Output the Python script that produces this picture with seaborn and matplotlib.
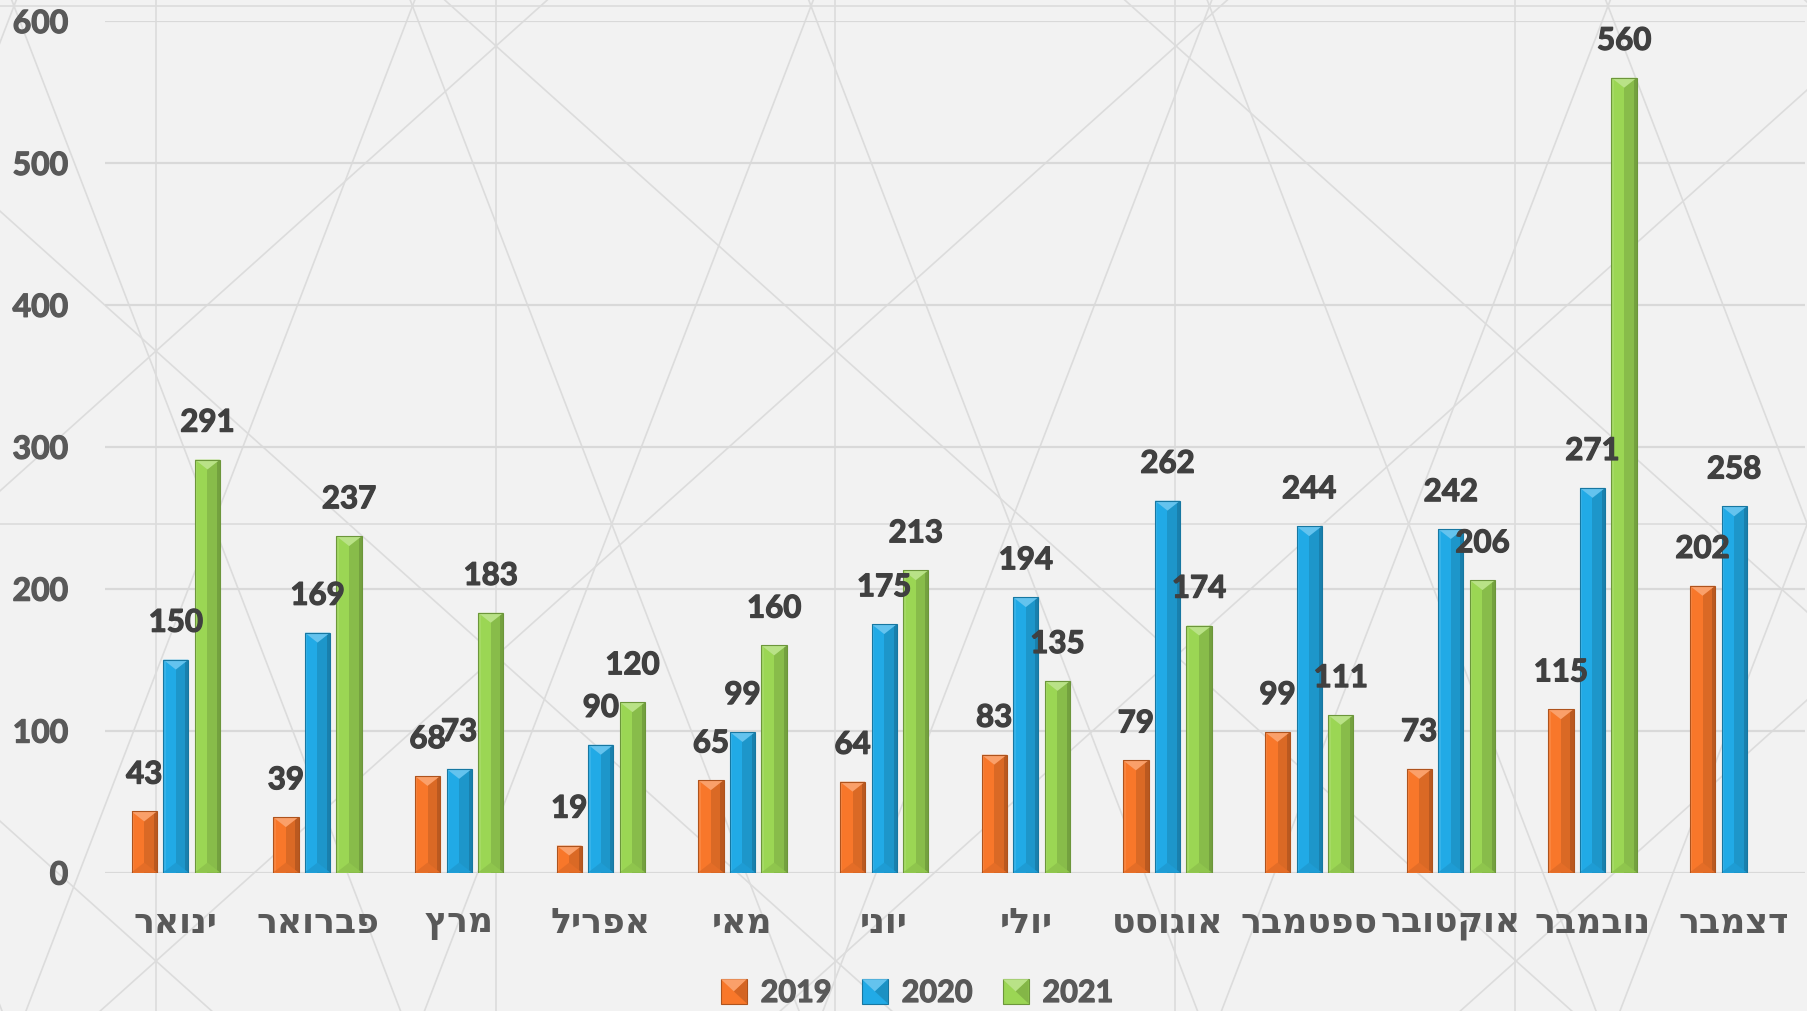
import matplotlib
matplotlib.use("Agg")
import matplotlib.patheffects as pe
import matplotlib.pyplot as plt
import numpy as np
import pandas as pd
import seaborn as sns
from matplotlib.colors import to_rgb
from matplotlib.legend_handler import HandlerBase
from matplotlib.patches import Polygon, Rectangle

# Data
months = ["ינואר", "פברואר", "מרץ", "אפריל", "מאי", "יוני",
          "יולי", "אוגוסט", "ספטמבר", "אוקטובר", "נובמבר", "דצמבר"]
years = ["2019", "2020", "2021"]
v2019 = [43, 39, 68, 19, 65, 64, 83, 79, 99, 73, 115, 202]
v2020 = [150, 169, 73, 90, 99, 175, 194, 262, 244, 242, 271, 258]
v2021 = [291, 237, 183, 120, 160, 213, 135, 174, 111, 206, 560, np.nan]
y_ticks = [0, 100, 200, 300, 400, 500, 600]

colors = ["#F8772A", "#21AAE6", "#9BD654"]
BG = "#F2F2F2"
LINE = "#DCDCDC"
W, H = 1808, 1011

rows = []
for year, vals in zip(years, [v2019, v2020, v2021]):
    for m, v in zip(months, vals):
        rows.append({"month": m, "year": year, "value": v})
df = pd.DataFrame(rows).dropna()

sns.set_theme(style="white")
plt.rcParams["font.family"] = ["Lato", "DejaVu Sans"]


def mix(c, other, t):
    c, o = np.array(to_rgb(c)), np.array(to_rgb(other))
    return tuple(c * (1 - t) + o * t)


def heavy(color):
    # slightly thicker strokes, the reference text is a very heavy face
    return [pe.withStroke(linewidth=0.9, foreground=color)]


fig = plt.figure(figsize=(W / 100, H / 100), dpi=100, facecolor=BG)

# decorative background pattern, in pixel coordinates
bg = fig.add_axes([0, 0, 1, 1], zorder=0)
bg.set_xlim(0, W)
bg.set_ylim(H, 0)
bg.axis("off")
xs = np.array([-50, W + 50])
for k in range(-1, 6):
    bg.axvline(156 + 339.7 * k, color=LINE, lw=1.2)
for yy in (6, 524):
    bg.axhline(yy, color=LINE, lw=1.2)
s = 0.897
for n in range(-4, 5):
    bg.plot(xs, 46 + s * (xs - 496) + 610 * n, color=LINE, lw=1.2)
    bg.plot(xs, 46 - s * (xs - 496) + 610 * n, color=LINE, lw=1.2)
S = 2.6
for k in range(-3, 8):
    x0 = 14 + 398.5 * k
    bg.plot(xs, 6 + S * (xs - x0), color=LINE, lw=1.2)
    bg.plot(xs, 6 - S * (xs - x0), color=LINE, lw=1.2)

ax = fig.add_axes([105 / W, 1 - 872.5 / H, (1805 - 105) / W, (872.5 - 21) / H], zorder=1)
ax.patch.set_alpha(0)

sns.barplot(data=df, x="month", y="value", hue="year", order=months,
            hue_order=years, palette=colors, saturation=1, width=0.67,
            gap=0.2, legend=False, ax=ax, edgecolor="none", zorder=3)
bars = [p for p in ax.patches if np.isfinite(p.get_height()) and p.get_height() > 0]

ax.set_xlim(-0.5, 11.5)
ax.set_ylim(0, 600)
ax.set_yticks(y_ticks)
ax.set_xticks(range(len(months)), labels=[m[::-1] for m in months])
for lab in ax.get_xticklabels():
    lab.set_fontfamily("DejaVu Sans")
    lab.set_fontweight("bold")
for lab in ax.get_yticklabels():
    lab.set_fontweight("bold")
    lab.set_path_effects(heavy("#595959"))
ax.tick_params(axis="x", length=0, pad=24, labelsize=25, labelcolor="#595959")
ax.tick_params(axis="y", length=0, pad=26.5, labelsize=23, labelcolor="#595959")
ax.grid(axis="y", color="#D9D9D9", lw=1.6, zorder=0)
ax.grid(axis="x", visible=False)
ax.set_axisbelow(True)
ax.set_xlabel("")
ax.set_ylabel("")
sns.despine(ax=ax, left=True, bottom=True)

# bevel effect and value labels
d = 7
for p in bars:
    x, w, h = p.get_x(), p.get_width(), p.get_height()
    c = p.get_facecolor()
    ax.add_patch(Rectangle((x + 0.5 * w, 0), 0.5 * w, h, facecolor=mix(c, "black", 0.12),
                           edgecolor="none", zorder=4))
    ax.add_patch(Rectangle((x + 0.88 * w, 0), 0.12 * w, h, facecolor=mix(c, "black", 0.25),
                           edgecolor="none", zorder=4))
    ax.add_patch(Rectangle((x, 0), 0.1 * w, h, facecolor=mix(c, "white", 0.1),
                           edgecolor="none", zorder=4))
    ax.add_patch(Polygon([(x, h), (x + w, h), (x + w / 2, h - min(d, h / 2))],
                         facecolor=mix(c, "white", 0.3), edgecolor="none", zorder=5))
    ax.add_patch(Polygon([(x, 0), (x + w, 0), (x + w / 2, min(d, h / 2))],
                         facecolor=mix(c, "black", 0.08), edgecolor="none", zorder=5))
    ax.add_patch(Rectangle((x, 0), w, h, facecolor="none", edgecolor=mix(c, "black", 0.3),
                           lw=0.8, zorder=6))
    ax.annotate(f"{h:.0f}", (x + w / 2, h), xytext=(0, 16.5), textcoords="offset points",
                ha="center", va="bottom", fontsize=22.5, fontweight="bold",
                color="#404040", zorder=7, annotation_clip=False,
                path_effects=heavy("#404040"))


class BevelHandler(HandlerBase):
    def create_artists(self, legend, orig_handle, xdescent, ydescent, width, height,
                       fontsize, trans):
        c = orig_handle.get_facecolor()
        x0, y0 = -xdescent, -ydescent
        cx, cy = x0 + width / 2, y0 + height / 2
        base = Rectangle((x0, y0), width, height, facecolor=c,
                         edgecolor=mix(c, "black", 0.3), lw=0.8, transform=trans)
        top = Polygon([(x0, y0 + height), (x0 + width, y0 + height), (cx, cy)],
                      facecolor=mix(c, "white", 0.3), edgecolor="none", transform=trans)
        right = Polygon([(x0 + width, y0 + height), (x0 + width, y0), (cx, cy)],
                        facecolor=mix(c, "black", 0.15), edgecolor="none", transform=trans)
        return [base, top, right]


handles = [Rectangle((0, 0), 1, 1, facecolor=c) for c in colors]
leg = fig.legend(handles, years, handler_map={Rectangle: BevelHandler()}, loc="center",
                 bbox_to_anchor=(917 / W, 1 - 993 / H), ncol=3, frameon=False,
                 prop={"size": 22, "weight": "bold"}, labelcolor="#595959",
                 handlelength=0.85, handleheight=0.85, handletextpad=0.45,
                 columnspacing=1.0)
for t in leg.get_texts():
    t.set_path_effects(heavy("#595959"))

fig.savefig("out.png", dpi=100, facecolor=BG)
